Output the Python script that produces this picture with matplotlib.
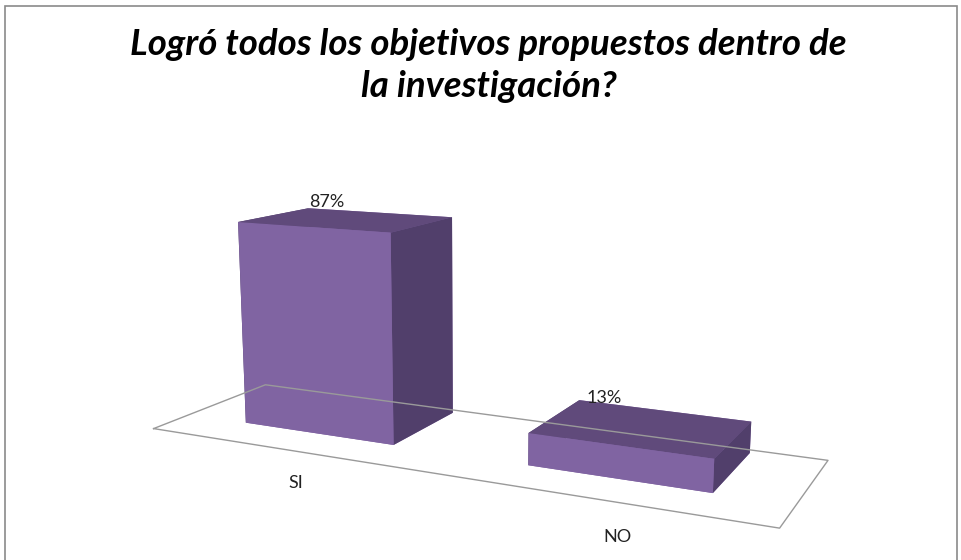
import matplotlib.pyplot as plt
from matplotlib.patches import Rectangle
import numpy as np

categories = ['SI', 'NO']
values = [87, 13]
value_labels = ['87%', '13%']

front_color = '#8064A2'
top_color = '#604A7B'
side_color = '#513F6B'

fig = plt.figure(figsize=(9.62, 5.6), dpi=100)
ax = fig.add_axes([-0.0735, -0.205, 1.12, 1.22], projection='3d')
ax.computed_zorder = False
ax.set_proj_type('persp', focal_length=0.35)
ax.view_init(elev=12, azim=-64)

n = len(categories)
ax.set_xlim(0, n)
ax.set_ylim(0, 1)
ax.set_zlim(0, 100)
ax.set_box_aspect((718, 220, 270), zoom=1.05)
ax.set_axis_off()

# floor
fx = [0, n, n, 0, 0]
fy = [0, 0, 1, 1, 0]
ax.plot(fx, fy, [0] * 5, color='#9a9a9a', lw=1.0, clip_on=False)

# bars
width = 0.55
xs = np.arange(n) + 0.5 - width / 2
y0, depth = 0.3, 0.65
colors = []
for _ in range(n):
    # faces: bottom, top, front(-y), back(+y), left(-x), right(+x)
    colors += [front_color, top_color, front_color, front_color, side_color, side_color]
bars = ax.bar3d(xs, np.full(n, y0), np.zeros(n), width, depth, values,
                color=colors, shade=False, edgecolor='none')
bars.set_clip_on(False)

for i, (v, lab) in enumerate(zip(values, value_labels)):
    ax.text(xs[i] + 0.1, y0 + depth * 0.9, v + 0.5, lab, fontsize=13, color='#222222',
            ha='center', va='bottom', family='Lato')
    ax.text(i + 0.6, -0.15, -5, categories[i], fontsize=13, color='#222222',
            ha='center', va='top', family='Lato')

fig.text(0.508, 0.95, 'Logró todos los objetivos propuestos dentro de\nla investigación?',
         ha='center', va='top', fontsize=26.4, fontweight='bold', fontstyle='italic',
         family='Lato', linespacing=1.35)

fig.patches.append(Rectangle((0.005, -0.01), 0.99, 1.0, transform=fig.transFigure,
                             fill=False, edgecolor='#8a8a8a', lw=1.2))

fig.savefig('out.png', dpi=100)
